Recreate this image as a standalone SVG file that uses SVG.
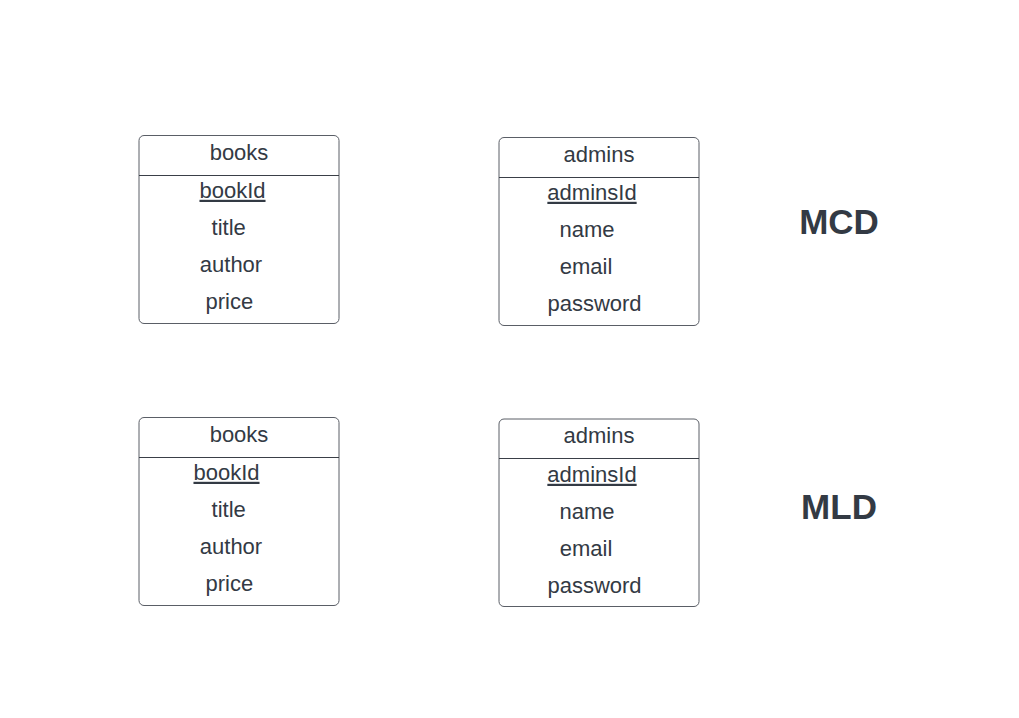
<svg xmlns="http://www.w3.org/2000/svg" width="1019" height="718" viewBox="0 0 1019 718">
<style>
.box{fill:#ffffff;stroke:#5a5e66;stroke-width:1}
.sep{stroke:#3a3f47;stroke-width:1}
.t{font-family:"Liberation Sans",Arial,sans-serif;font-size:22px;fill:#333a44;text-anchor:middle}
.u{text-decoration:underline}
.big{font-family:"Liberation Sans",Arial,sans-serif;font-size:35px;font-weight:bold;fill:#333a44;text-anchor:middle}
</style>
<rect width="1019" height="718" fill="#ffffff"/>
<g id="connectors"></g>
<g id="mcd-books">
<rect class="box" x="139" y="135.5" width="200" height="188" rx="5"/>
<line class="sep" x1="139" y1="175.5" x2="339" y2="175.5"/>
<text class="t" x="239" y="159.5">books</text>
<text class="t u" x="232.5" y="197.8">bookId</text>
<text class="t" x="228.7" y="234.8">title</text>
<text class="t" x="231" y="271.8">author</text>
<text class="t" x="229.3" y="308.8">price</text>
</g>
<g id="mcd-admins">
<rect class="box" x="499" y="137.5" width="200" height="188" rx="5"/>
<line class="sep" x1="499" y1="177.5" x2="699" y2="177.5"/>
<text class="t" x="599" y="161.5">admins</text>
<text class="t u" x="592" y="199.8">adminsId</text>
<text class="t" x="587" y="236.8">name</text>
<text class="t" x="586" y="273.8">email</text>
<text class="t" x="594.5" y="310.8">password</text>
</g>
<g id="mcd-label">
<text class="big" x="839" y="233.5">MCD</text>
</g>
<g id="mld-books">
<rect class="box" x="139" y="417.5" width="200" height="188" rx="5"/>
<line class="sep" x1="139" y1="457.5" x2="339" y2="457.5"/>
<text class="t" x="239" y="441.5">books</text>
<text class="t u" x="226.5" y="479.8">bookId</text>
<text class="t" x="228.7" y="516.8">title</text>
<text class="t" x="231" y="553.8">author</text>
<text class="t" x="229.3" y="590.8">price</text>
</g>
<g id="mld-admins">
<rect class="box" x="499" y="419" width="200" height="187.5" rx="5"/>
<line class="sep" x1="499" y1="458.5" x2="699" y2="458.5"/>
<text class="t" x="599" y="442.5">admins</text>
<text class="t u" x="592" y="481.8">adminsId</text>
<text class="t" x="587" y="518.8">name</text>
<text class="t" x="586" y="555.8">email</text>
<text class="t" x="594.5" y="592.8">password</text>
</g>
<g id="mld-label">
<text class="big" x="839" y="518.5">MLD</text>
</g>
</svg>
